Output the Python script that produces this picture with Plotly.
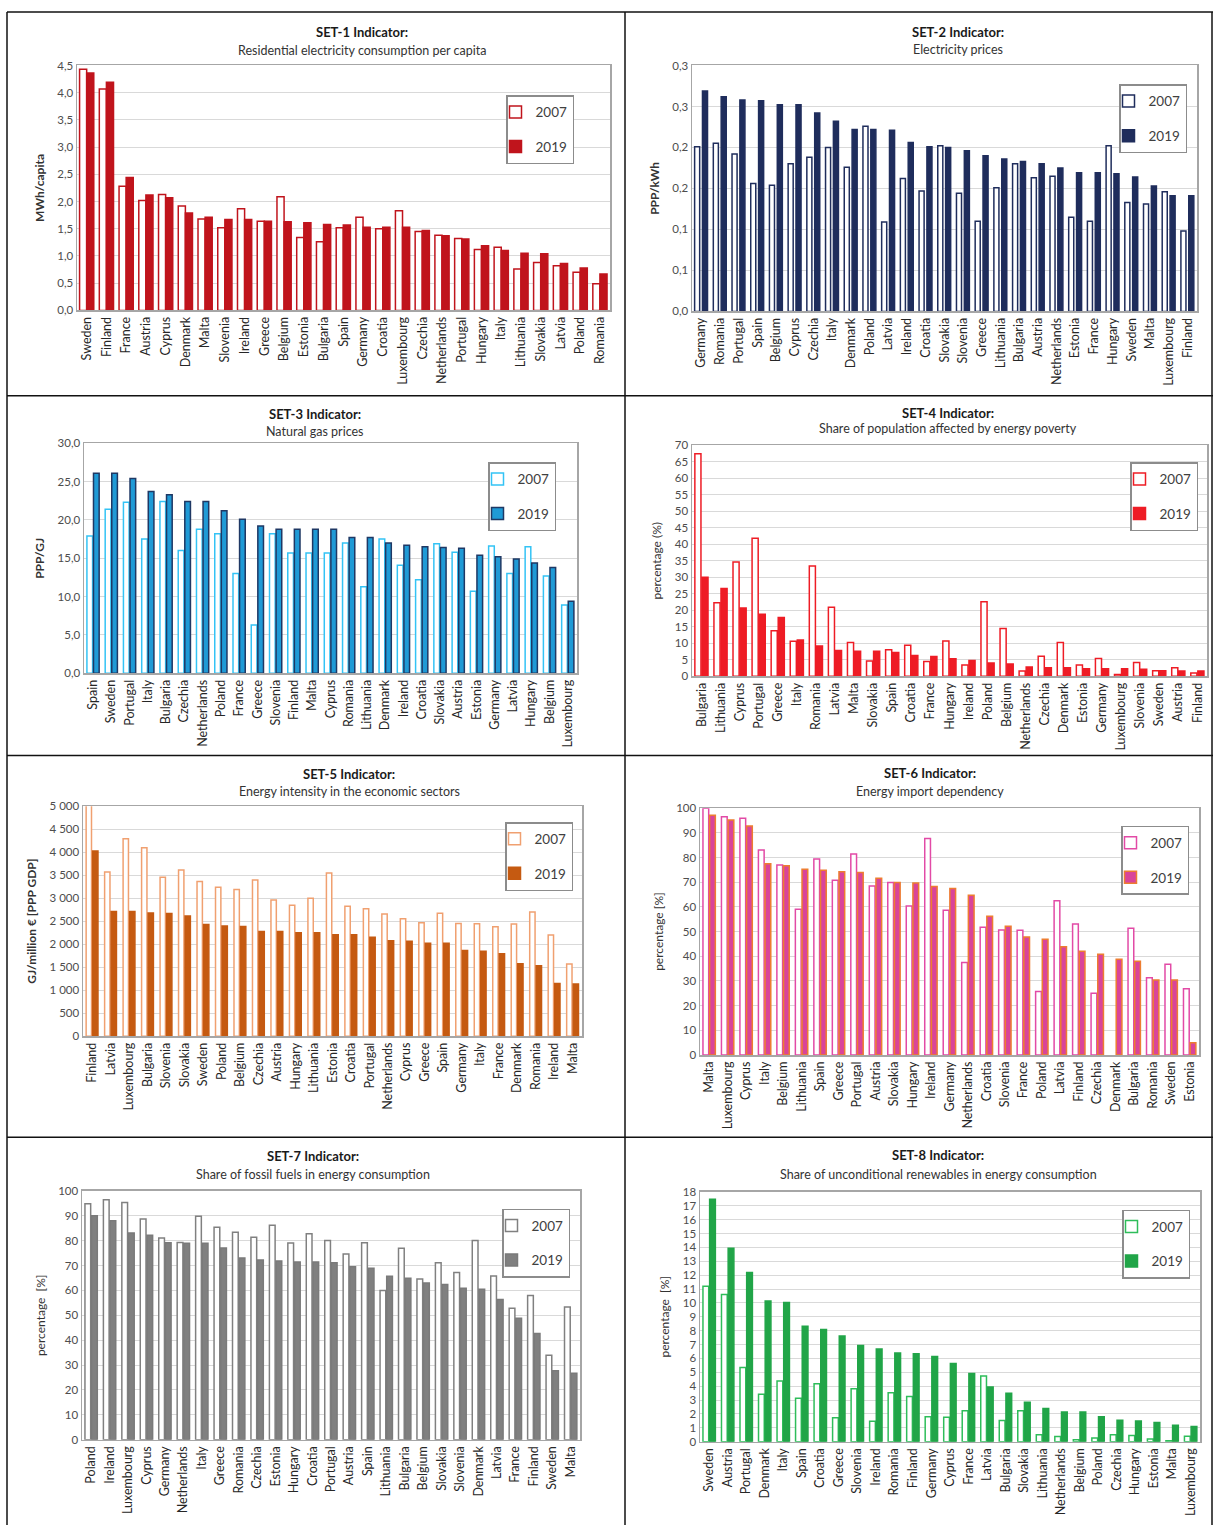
import plotly.graph_objects as go

W, H = 1213, 1531

# ---------------- DATA ----------------
set1_countries = ["Sweden", "Finland", "France", "Austria", "Cyprus", "Denmark", "Malta", "Slovenia", "Ireland",
                  "Greece", "Belgium", "Estonia", "Bulgaria", "Spain", "Germany", "Croatia", "Luxembourg", "Czechia",
                  "Netherlands", "Portugal", "Hungary", "Italy", "Lithuania", "Slovakia", "Latvia", "Poland", "Romania"]
set1_2007 = [4.43, 4.07, 2.28, 2.02, 2.13, 1.92, 1.68, 1.52, 1.87, 1.64, 2.09, 1.34, 1.26, 1.52, 1.71, 1.50, 1.83,
             1.45, 1.38, 1.32, 1.12, 1.16, 0.76, 0.88, 0.82, 0.70, 0.49]
set1_2019 = [4.36, 4.19, 2.44, 2.12, 2.07, 1.79, 1.71, 1.67, 1.67, 1.64, 1.63, 1.61, 1.58, 1.57, 1.53, 1.53, 1.53,
             1.47, 1.37, 1.31, 1.19, 1.10, 1.05, 1.04, 0.86, 0.78, 0.67]

set2_countries = ["Germany", "Romania", "Portugal", "Spain", "Belgium", "Cyprus", "Czechia", "Italy", "Denmark",
                  "Poland", "Latvia", "Ireland", "Croatia", "Slovakia", "Slovenia", "Greece", "Lithuania", "Bulgaria",
                  "Austria", "Netherlands", "Estonia", "France", "Hungary", "Sweden", "Malta", "Luxembourg", "Finland"]
set2_2007 = [0.201, 0.205, 0.192, 0.156, 0.154, 0.180, 0.188, 0.200, 0.176, 0.226, 0.109, 0.162, 0.147, 0.202,
             0.144, 0.110, 0.151, 0.180, 0.163, 0.165, 0.115, 0.110, 0.202, 0.133, 0.131, 0.146, 0.098]
set2_2019 = [0.269, 0.262, 0.258, 0.257, 0.252, 0.252, 0.242, 0.232, 0.222, 0.222, 0.221, 0.206, 0.201, 0.200,
             0.196, 0.190, 0.186, 0.183, 0.180, 0.175, 0.169, 0.169, 0.168, 0.164, 0.153, 0.141, 0.141]
set2_tickvals = [0, 0.05, 0.10, 0.15, 0.20, 0.25, 0.30]
set2_ticktext = ["0,0", "0,1", "0,1", "0,2", "0,2", "0,3", "0,3"]

set3_countries = ["Spain", "Sweden", "Portugal", "Italy", "Bulgaria", "Czechia", "Netherlands", "Poland", "France",
                  "Greece", "Slovenia", "Finland", "Malta", "Cyprus", "Romania", "Lithuania", "Denmark", "Ireland",
                  "Croatia", "Slovakia", "Austria", "Estonia", "Germany", "Latvia", "Hungary", "Belgium", "Luxembourg"]
set3_2007 = [17.9, 21.4, 22.3, 17.5, 22.4, 16.0, 18.8, 18.2, 13.0, 6.3, 18.2, 15.7, 15.7, 15.7, 17.0, 11.3, 17.5,
             14.1, 12.2, 16.9, 15.8, 10.7, 16.6, 13.0, 16.5, 12.7, 8.9]
set3_2019 = [26.1, 26.1, 25.4, 23.7, 23.3, 22.4, 22.4, 21.2, 20.1, 19.2, 18.8, 18.8, 18.8, 18.8, 17.7, 17.7, 17.0,
             16.7, 16.5, 16.4, 16.3, 15.4, 15.2, 14.9, 14.4, 13.8, 9.4]

set4_countries = ["Bulgaria", "Lithuania", "Cyprus", "Portugal", "Greece", "Italy", "Romania", "Latvia", "Malta",
                  "Slovakia", "Spain", "Croatia", "France", "Hungary", "Ireland", "Poland", "Belgium", "Netherlands",
                  "Czechia", "Denmark", "Estonia", "Germany", "Luxembourg", "Slovenia", "Sweden", "Austria", "Finland"]
set4_2007 = [67.4, 22.3, 34.6, 41.8, 13.8, 10.6, 33.4, 20.9, 10.2, 4.6, 8.0, 9.4, 4.5, 10.7, 3.4, 22.6, 14.5, 1.6,
             6.1, 10.2, 3.4, 5.4, 0.5, 4.2, 1.7, 2.6, 1.0]
set4_2019 = [30.0, 26.6, 20.7, 18.8, 17.8, 11.0, 9.2, 7.8, 7.6, 7.6, 7.2, 6.3, 6.0, 5.3, 4.8, 4.0, 3.7, 2.8, 2.6,
             2.6, 2.3, 2.3, 2.3, 2.1, 1.7, 1.6, 1.6]

set5_countries = ["Finland", "Latvia", "Luxembourg", "Bulgaria", "Slovenia", "Slovakia", "Sweden", "Poland", "Belgium",
                  "Czechia", "Austria", "Hungary", "Lithuania", "Estonia", "Croatia", "Portugal", "Netherlands",
                  "Cyprus", "Greece", "Spain", "Germany", "Italy", "France", "Denmark", "Romania", "Ireland", "Malta"]
set5_2007 = [5150, 3567, 4291, 4097, 3453, 3610, 3360, 3238, 3188, 3395, 2958, 2844, 3001, 3546, 2822, 2772, 2657,
             2550, 2464, 2672, 2450, 2443, 2378, 2436, 2700, 2199, 1569]
set5_2019 = [4026, 2708, 2708, 2679, 2665, 2615, 2428, 2393, 2385, 2278, 2278, 2249, 2249, 2206, 2206, 2149, 2077,
             2063, 2020, 2020, 1862, 1848, 1791, 1576, 1533, 1146, 1132]

set6_countries = ["Malta", "Luxembourg", "Cyprus", "Italy", "Belgium", "Lithuania", "Spain", "Greece", "Portugal",
                  "Austria", "Slovakia", "Hungary", "Ireland", "Germany", "Netherlands", "Croatia", "Slovenia",
                  "France", "Poland", "Latvia", "Finland", "Czechia", "Denmark", "Bulgaria", "Romania", "Sweden",
                  "Estonia"]
set6_2007 = [100.0, 96.5, 95.9, 83.0, 77.0, 59.0, 79.4, 70.8, 81.4, 68.5, 69.9, 60.4, 87.7, 58.6, 37.5, 51.8, 50.6,
             50.5, 25.7, 62.5, 53.1, 25.0, None, 51.3, 31.3, 36.8, 26.8]
set6_2019 = [97.1, 95.2, 92.8, 77.5, 76.7, 75.2, 74.8, 74.2, 73.9, 71.6, 69.9, 69.7, 68.3, 67.5, 64.7, 56.2, 52.2,
             47.8, 46.9, 43.9, 42.0, 40.8, 38.8, 38.0, 30.4, 30.4, 5.0]

set7_countries = ["Poland", "Ireland", "Luxembourg", "Cyprus", "Germany", "Netherlands", "Italy", "Greece", "Romania",
                  "Czechia", "Estonia", "Hungary", "Croatia", "Portugal", "Austria", "Spain", "Lithuania", "Bulgaria",
                  "Belgium", "Slovakia", "Slovenia", "Denmark", "Latvia", "France", "Finland", "Sweden", "Malta"]
set7_2007 = [94.8, 96.4, 95.3, 88.7, 81.1, 79.3, 89.8, 85.4, 83.4, 81.4, 86.2, 79.0, 82.8, 80.1, 74.6, 79.1, 60.0,
             76.9, 64.6, 71.1, 67.2, 80.1, 65.8, 52.8, 58.0, 33.9, 53.3]
set7_2019 = [90.0, 88.0, 83.1, 82.2, 79.1, 78.9, 78.9, 77.0, 73.0, 72.2, 71.8, 71.4, 71.4, 71.1, 69.5, 68.9, 65.7,
             64.9, 63.0, 62.4, 60.9, 60.5, 56.3, 48.8, 42.7, 27.7, 26.7]

set8_countries = ["Sweden", "Austria", "Portugal", "Denmark", "Italy", "Spain", "Croatia", "Greece", "Slovenia",
                  "Ireland", "Romania", "Finland", "Germany", "Cyprus", "France", "Latvia", "Bulgaria", "Slovakia",
                  "Lithuania", "Netherlands", "Belgium", "Poland", "Czechia", "Hungary", "Estonia", "Malta",
                  "Luxembourg"]
set8_2007 = [11.2, 10.6, 5.34, 3.42, 4.37, 3.13, 4.18, 1.73, 3.82, 1.47, 3.52, 3.25, 1.80, 1.76, 2.23, 4.73, 1.52,
             2.23, 0.50, 0.38, 0.14, 0.26, 0.50, 0.45, 0.19, 0.07, 0.40]
set8_2019 = [17.46, 13.94, 12.19, 10.14, 10.02, 8.31, 8.08, 7.62, 6.94, 6.67, 6.39, 6.34, 6.13, 5.63, 4.92, 3.94,
             3.49, 2.85, 2.40, 2.14, 2.14, 1.80, 1.54, 1.50, 1.38, 1.19, 1.09]

series_names = ["2007", "2019"]

titles = ["SET-1 Indicator:", "SET-2 Indicator:", "SET-3 Indicator:", "SET-4 Indicator:",
          "SET-5 Indicator:", "SET-6 Indicator:", "SET-7 Indicator:", "SET-8 Indicator:"]
subtitles = ["Residential electricity consumption per capita", "Electricity prices", "Natural gas prices",
             "Share of population affected by energy poverty", "Energy intensity in the economic sectors",
             "Energy import dependency", "Share of fossil fuels in energy consumption",
             "Share of unconditional renewables in energy consumption"]
ytitles = ["<b>MWh/capita</b>", "<b>PPP/kWh</b>", "<b>PPP/GJ</b>", "percentage (%)",
           "<b>GJ/million € [PPP GDP]</b>", "percentage [%]", "percentage  [%]", "percentage  [%]"]

# ---------------- STYLE / LAYOUT ----------------
panels = [
    dict(cats=set1_countries, a=set1_2007, b=set1_2019, box=(77, 59, 610, 306), leg=(574, 89),
         tcx=362, ty=25, sty=44, rng=[0, 4.5], dtick=0.5, fmt=".1f",
         ca="#c0141c", fa="white", cb="#c0141c", fb="#c0141c", bw=0.36, off=(-0.37, -0.01)),
    dict(cats=set2_countries, a=set2_2007, b=set2_2019, box=(692, 59, 1197, 307), leg=(1187, 78),
         tcx=958, ty=25, sty=43, rng=[0, 0.3], tickvals=set2_tickvals, ticktext=set2_ticktext,
         ca="#1f2d5c", fa="white", cb="#1f2d5c", fb="#1f2d5c", bw=0.27, off=(-0.36, 0.06)),
    dict(cats=set3_countries, a=set3_2007, b=set3_2019, box=(84, 440, 577, 672), leg=(556, 459),
         tcx=315, ty=410, sty=428, rng=[0, 30], dtick=5, fmt=".1f",
         ca="#33c3f5", fa="white", cb="#1f3864", fb="#1f9ad6", bw=0.31, off=(-0.34, 0.02)),
    dict(cats=set4_countries, a=set4_2007, b=set4_2019, box=(692, 442, 1207, 675), leg=(1198, 459),
         tcx=948, ty=409, sty=425, rng=[0, 70], dtick=5, fmt="d",
         ca="#ee1c25", fa="white", cb="#ee1c25", fb="#ee1c25", bw=0.32, off=(-0.35, 0.02)),
    dict(cats=set5_countries, a=set5_2007, b=set5_2019, box=(83, 806, 582, 1038), leg=(573, 822),
         tcx=349, ty=774, sty=791, rng=[0, 5000], dtick=500, fmt=",d",
         ca="#f0a070", fa="white", cb="#c55a11", fb="#c55a11", bw=0.29, off=(-0.33, 0.02)),
    dict(cats=set6_countries, a=set6_2007, b=set6_2019, box=(700, 808, 1199, 1057), leg=(1189, 826),
         tcx=930, ty=773, sty=791, rng=[0, 100], dtick=10, fmt="d",
         ca="#e24aa6", fa="white", cb="#ed7d31", fb="#d9449a", bw=0.31, off=(-0.34, 0.02)),
    dict(cats=set7_countries, a=set7_2007, b=set7_2019, box=(82, 1194, 580, 1445), leg=(570, 1212),
         tcx=313, ty=1159, sty=1177, rng=[0, 100], dtick=10, fmt="d",
         ca="#808080", fa="white", cb="#7a7a7a", fb="#808080", bw=0.31, off=(-0.34, 0.02)),
    dict(cats=set8_countries, a=set8_2007, b=set8_2019, box=(700, 1195, 1200, 1447), leg=(1190, 1213),
         tcx=938, ty=1158, sty=1177, rng=[0, 18], dtick=1, fmt="d",
         ca="#2ebd5a", fa="white", cb="#21a548", fb="#21a548", bw=0.31, off=(-0.34, 0.02)),
]

FONT = "Lato, Open Sans, sans-serif"
fig = go.Figure()
layout = dict(width=W, height=H, margin=dict(l=0, r=0, t=0, b=0), paper_bgcolor="white",
              plot_bgcolor="white", font=dict(family=FONT, color="#333333"), separators=", ",
              barmode="overlay", annotations=[], shapes=[])

for i, p in enumerate(panels, start=1):
    sfx = "" if i == 1 else str(i)
    xa, ya = "x" + sfx, "y" + sfx
    legname = "legend" + sfx
    x0, y0, x1, y1 = p["box"]
    for k, (vals, lc, fc, off) in enumerate([(p["a"], p["ca"], p["fa"], p["off"][0]),
                                             (p["b"], p["cb"], p["fb"], p["off"][1])]):
        fig.add_trace(go.Bar(
            x=p["cats"], y=vals, name=series_names[k], xaxis=xa, yaxis=ya,
            marker=dict(color=fc, line=dict(color=lc, width=1.5)),
            width=p["bw"], offset=off, legend=legname, legendgroup=f"g{i}{k}",
            hoverinfo="x+y+name"))
    xax = dict(domain=[x0 / W, x1 / W], anchor=ya, type="category", range=[-0.5, len(p["cats"]) - 0.5],
               tickangle=-90, tickfont=dict(size=12.5, color="#262626"), showline=True, mirror=True,
               linecolor="#a6a6a6", linewidth=1.5, ticks="", showgrid=False, fixedrange=True)
    yax = dict(domain=[1 - y1 / H, 1 - y0 / H], anchor=xa, range=p["rng"], showline=True, mirror=True,
               linecolor="#a6a6a6", linewidth=1.5, gridcolor="#d9d9d9", gridwidth=1, zeroline=False,
               tickfont=dict(size=11.5, color="#4d4d4d"), ticks="",
               title=dict(text=ytitles[i - 1], font=dict(size=12, color="#333333"), standoff=10))
    if "tickvals" in p:
        yax.update(tickmode="array", tickvals=p["tickvals"], ticktext=p["ticktext"])
    else:
        yax.update(dtick=p["dtick"], tick0=0, tickformat=p["fmt"])
    layout["xaxis" + sfx] = xax
    layout["yaxis" + sfx] = yax
    lx, ly = p["leg"]
    layout[legname] = dict(x=lx / W, y=1 - ly / H, xanchor="right", yanchor="top", bgcolor="white",
                           bordercolor="#8c8c8c", borderwidth=1.5, font=dict(size=13.5, color="#404040"),
                           tracegroupgap=14, itemwidth=30, indentation=-12,
                           itemclick=False, itemdoubleclick=False)
    layout["annotations"].append(dict(text="<b>" + titles[i - 1] + "</b>", x=p["tcx"] / W, y=1 - p["ty"] / H,
                                      xref="paper", yref="paper", showarrow=False, xanchor="center",
                                      yanchor="middle", font=dict(size=13, color="#1a1a1a")))
    layout["annotations"].append(dict(text=subtitles[i - 1], x=p["tcx"] / W, y=1 - p["sty"] / H,
                                      xref="paper", yref="paper", showarrow=False, xanchor="center",
                                      yanchor="middle", font=dict(size=12.5, color="#333333")))

# panel separators
def hline(y, xa=7, xb=1213):
    return dict(type="line", xref="paper", yref="paper", x0=xa / W, x1=xb / W, y0=1 - y / H, y1=1 - y / H,
                line=dict(color="#111111", width=1.5))

def vline(x, ya=5, yb=1531):
    return dict(type="line", xref="paper", yref="paper", x0=x / W, x1=x / W, y0=1 - ya / H, y1=1 - yb / H,
                line=dict(color="#111111", width=1.5))

layout["shapes"] = [hline(5), hline(392), hline(755), hline(1140), vline(7), vline(625), vline(1212)]

fig.update_layout(**layout)

reset_page = ("document.body.style.margin='0';document.body.style.padding='0';"
              "document.documentElement.style.overflow='hidden';"
              "var g=document.getElementById('{plot_id}');g.style.position='absolute';"
              "g.style.left='0px';g.style.top='0px';")
fig.write_html("out.html", post_script=reset_page, config={"staticPlot": True, "displayModeBar": False})
